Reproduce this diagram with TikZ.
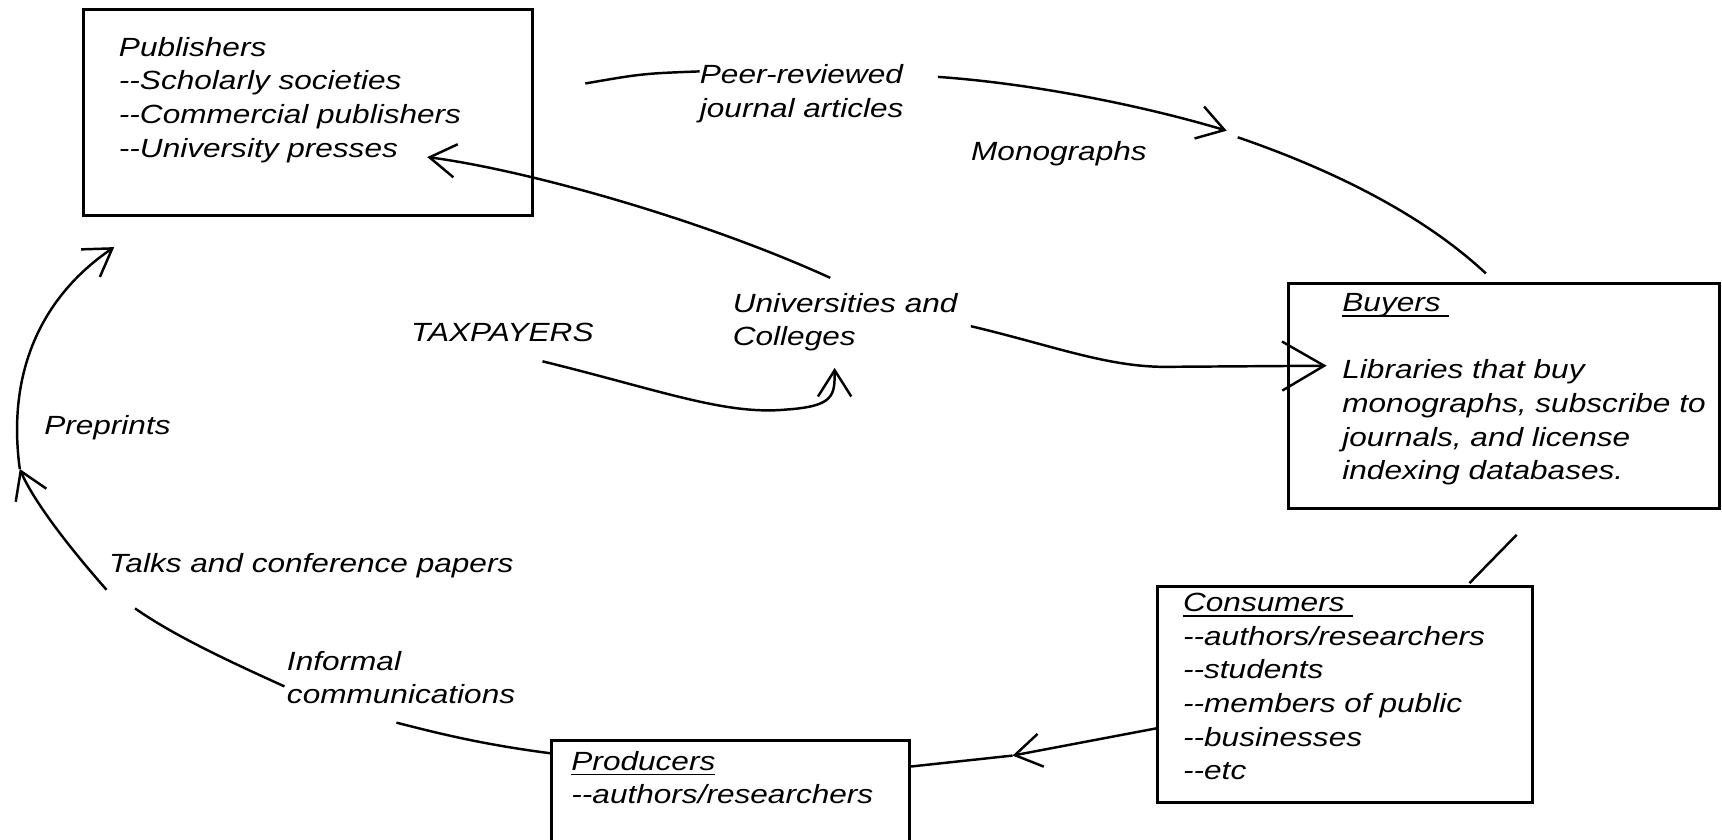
\documentclass[tikz,border=0pt]{standalone}
\usepackage{fontspec}
\setmainfont{Liberation Sans}[FakeStretch=1.2]
\usetikzlibrary{arrows.meta,fit}
\newcommand\dashes{-{}-}
\newcommand\ulabel[1]{\setbox0\hbox{#1}\rlap{\rule[-3pt]{\wd0}{0.9pt}}\box0}
\begin{document}
\begin{tikzpicture}[x=0.022cm, y=-0.022cm,
                    box/.style={draw, line width=1.7pt, inner sep=0pt},
                    txt/.style={anchor=base west, inner sep=0pt, align=left, font=\itshape\fontsize{15}{19.2}\selectfont},
                    flow/.style={line width=1.4pt},
                    arrowed/.style={-{Straight Barb[length=15pt,width=19pt]}},
                    bigarrow/.style={-{Straight Barb[length=24pt,width=28pt]}}]
                    \useasboundingbox (0,0) rectangle (1568,764);
                    \clip (0,0) rectangle (1568,764);
                    \node[box, fit={(76,9) (485,196)}] (pub) {};
                    \node[box, fit={(1173,258) (1566,463)}] (buy) {};
                    \node[box, fit={(1054,534) (1395,731)}] (cons) {};
                    \node[box, fit={(502,674) (828,790)}] (prod) {};
                    \node[txt] (pubtxt) at (108,143) {Publishers\\\dashes Scholarly societies\\\dashes Commercial publishers\\\dashes University presses};
                    \node[txt] (buytxt) at (1222,437) {\ulabel{Buyers\ }\\[19.2pt]Libraries that buy\\monographs, subscribe to\\journals, and license\\indexing databases.};
                    \node[txt] (constxt) at (1077,710) {\ulabel{Consumers\ }\\\dashes authors/researchers\\\dashes students\\\dashes members of public\\\dashes businesses\\\dashes etc};
                    \node[txt] (prodtxt) at (520,732) {\ulabel{Producers}\\\dashes authors/researchers};
                    \node[txt] (peer) at (637,107) {Peer-reviewed\\journal articles};
                    \node[txt] (mono) at (884,146) {Monographs};
                    \node[txt] (univ) at (667,315) {Universities and\\Colleges};
                    \node[txt] (tax) at (374,311) {TAXPAYERS};
                    \node[txt] (pre) at (40,396) {Preprints};
                    \node[txt] (talks) at (99,521) {Talks and conference papers};
                    \node[txt] (inf) at (261,641) {Informal\\communications};
                    \coordinate (pubright) at (533,76);
                    \coordinate (peerin) at (637,65);
                    \coordinate (peerout) at (854,70);
                    \coordinate (monotip) at (1117,119);
                    \coordinate (monoafter) at (1127,125);
                    \coordinate (buytop) at (1353,249);
                    \coordinate (buyfoot) at (1381,487);
                    \coordinate (constop) at (1338,531);
                    \coordinate (consleft) at (1054,663);
                    \coordinate (constip) at (922,688);
                    \coordinate (prodright) at (829,698);
                    \coordinate (prodleft) at (502,686);
                    \coordinate (infright) at (361,658);
                    \coordinate (infleft) at (259,625);
                    \coordinate (talkright) at (123,554);
                    \coordinate (talkleft) at (97,537);
                    \coordinate (preptip) at (18,427);
                    \coordinate (pubfoot) at (104,225);
                    \coordinate (pubend) at (389,143);
                    \coordinate (univtop) at (756,253);
                    \coordinate (univright) at (884,297);
                    \coordinate (buyknee) at (1065,334);
                    \coordinate (buyend) at (1208,333);
                    \coordinate (taxfoot) at (494,329);
                    \coordinate (taxknee) at (715,373);
                    \coordinate (univfoot) at (760,335);
                    \draw[flow] (pubright) .. controls (585,67) .. (peerin);
                    \draw[flow, arrowed] (peerout) .. controls (940,76) and (1040,96) .. (monotip);
                    \draw[flow] (monoafter) .. controls (1200,150) and (1290,190) .. (buytop);
                    \draw[flow] (buyfoot) -- (constop);
                    \draw[flow, arrowed] (consleft) -- (constip);
                    \draw[flow] (constip) -- (prodright);
                    \draw[flow] (prodleft) .. controls (440,678) and (400,668) .. (infright);
                    \draw[flow] (infleft) .. controls (215,605) and (160,580) .. (talkright);
                    \draw[flow, arrowed] (talkleft) .. controls (60,495) and (30,455) .. (preptip);
                    \draw[flow, arrowed] (preptip) .. controls (5,330) and (45,265) .. (pubfoot);
                    \draw[flow, arrowed] (univtop) .. controls (640,200) and (480,155) .. (pubend);
                    \draw[flow, bigarrow] (univright) .. controls (960,315) and (1010,335) .. (buyknee) -- (buyend);
                    \draw[flow, arrowed] (taxfoot) .. controls (600,355) and (660,378) .. (taxknee) .. controls (760,370) and (760,360) .. (univfoot);
                \end{tikzpicture}
\end{document}
